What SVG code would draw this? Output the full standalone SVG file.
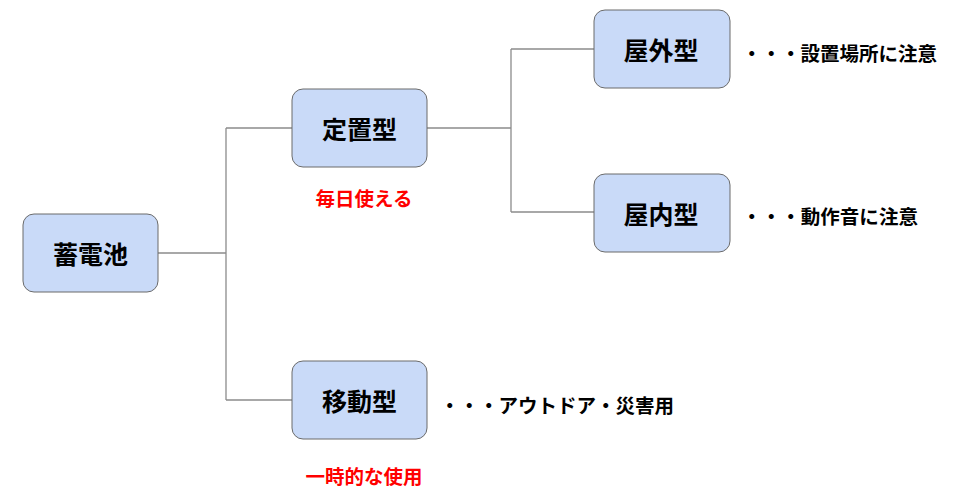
<svg xmlns="http://www.w3.org/2000/svg" width="957" height="494" viewBox="0 0 957 494">
<style>
.node rect{fill:#c9daf8;stroke:#6b6b6b;stroke-width:1}
.node text{font-family:"Noto Sans CJK JP","Noto Sans CJK SC",sans-serif;font-weight:bold;font-size:25px;fill:#000;text-anchor:middle;dominant-baseline:central}
.side{font-family:"Noto Sans CJK JP",sans-serif;font-weight:bold;font-size:19.5px;fill:#000;dominant-baseline:central}
.note{font-family:"Noto Sans CJK JP",sans-serif;font-weight:bold;font-size:19.5px;fill:#ff0000;text-anchor:middle;dominant-baseline:central}
.conn path{fill:none;stroke:#8c8c8c;stroke-width:1.3}
</style>
<rect width="957" height="494" fill="#fff"/>
<g id="connectors" class="conn">
<path d="M158,253 H226 M226,128 V400 M226,128 H292 M226,400 H292"/>
<path d="M427,128 H511 M511,49 V212 M511,49 H594 M511,212 H594"/>
</g>
<g id="n-battery" class="node"><rect x="23" y="214" width="135" height="78" rx="11"/><text x="90.5" y="253">蓄電池</text></g>
<g id="n-fixed" class="node"><rect x="292" y="89" width="135" height="78" rx="11"/><text x="359.5" y="128">定置型</text></g>
<g id="n-outdoor" class="node"><rect x="594" y="10" width="136" height="78" rx="11"/><text x="661" y="49">屋外型</text></g>
<g id="n-indoor" class="node"><rect x="594" y="174" width="136" height="78" rx="11"/><text x="661" y="213">屋内型</text></g>
<g id="n-mobile" class="node"><rect x="292" y="361" width="135" height="78" rx="11"/><text x="359.5" y="400">移動型</text></g>
<text class="note" x="364" y="197">毎日使える</text>
<text class="note" x="364" y="475">一時的な使用</text>
<text class="side" x="742" y="52" textLength="195" lengthAdjust="spacing">・・・設置場所に注意</text>
<text class="side" x="742" y="215" textLength="176" lengthAdjust="spacing">・・・動作音に注意</text>
<text class="side" x="440" y="404" textLength="234" lengthAdjust="spacing">・・・アウトドア・災害用</text>
</svg>
